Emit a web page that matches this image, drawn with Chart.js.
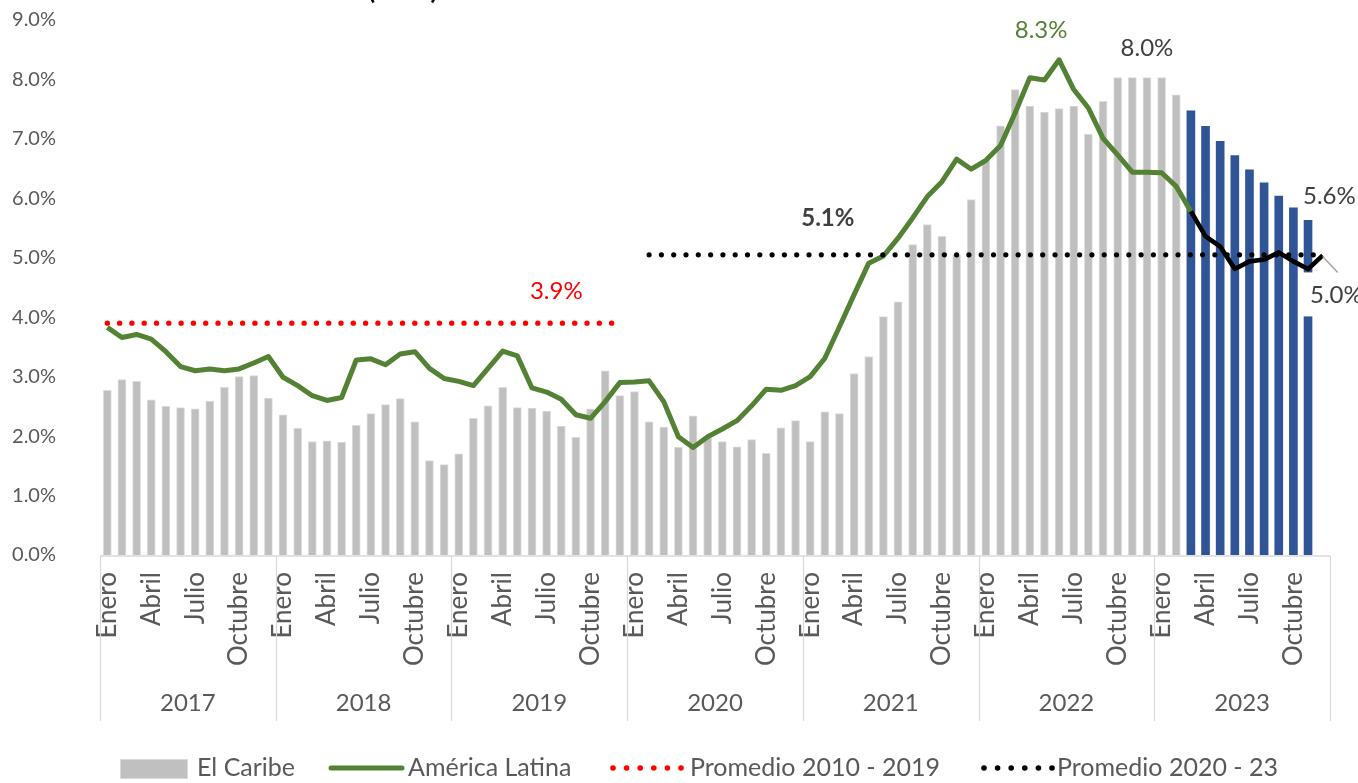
<!DOCTYPE html>
<html><head><meta charset="utf-8">
<script src="https://cdn.jsdelivr.net/npm/chart.js@4.4.1/dist/chart.umd.min.js"></script>
<style>html,body{margin:0;padding:0;background:#fff;overflow:hidden}#wrap{width:1358px;height:783px;position:relative}</style>
</head><body><div id="wrap"><canvas id="c" width="1358" height="783"></canvas></div>
<script>
const years = ['2017','2018','2019','2020','2021','2022','2023'];
const months = ['Enero','Febrero','Marzo','Abril','Mayo','Junio','Julio','Agosto','Septiembre','Octubre','Noviembre','Diciembre'];
const shownMonths = ['Enero','Abril','Julio','Octubre'];
const yTickMax = 9;

// El Caribe (bars), Jan 2017 - Dec 2023
const caribe = [
  2.77,2.95,2.92,2.61,2.50,2.48,2.46,2.59,2.82,3.00,3.02,2.64,
  2.36,2.13,1.91,1.92,1.90,2.18,2.38,2.53,2.63,2.24,1.59,1.52,
  1.70,2.30,2.51,2.82,2.48,2.47,2.42,2.17,1.98,2.46,3.10,2.68,
  2.75,2.24,2.15,1.81,2.34,1.97,1.91,1.82,1.94,1.71,2.14,2.26,
  1.91,2.41,2.38,3.05,3.34,4.01,4.26,5.22,5.56,5.36,5.05,5.98,
  6.65,7.22,7.83,7.55,7.45,7.51,7.55,7.08,7.63,8.03,8.03,8.03,
  8.03,7.74,7.47,7.21,6.96,6.72,6.48,6.26,6.04,5.84,5.63,null
];
// first index of the blue (projected) bars: Mar 2023
const caribeProjStart = 74;

// América Latina (green line), Jan 2017 - Mar 2023
const latam = [
  3.83,3.66,3.71,3.63,3.42,3.17,3.10,3.13,3.10,3.13,3.23,3.34,
  2.99,2.85,2.68,2.60,2.65,3.28,3.30,3.20,3.38,3.42,3.14,2.97,
  2.92,2.85,3.14,3.43,3.35,2.81,2.74,2.62,2.36,2.30,2.58,2.90,
  2.91,2.93,2.58,1.99,1.81,1.99,2.12,2.26,2.51,2.79,2.77,2.85,
  3.00,3.31,3.84,4.38,4.91,5.03,5.33,5.67,6.03,6.28,6.66,6.49,
  6.64,6.89,7.44,8.03,7.99,8.33,7.83,7.52,7.01,6.73,6.44,6.44,
  6.43,6.20,5.78
];
// América Latina projection (black line), Mar 2023 - Dec 2023
const latamProj = [5.78,5.36,5.19,4.81,4.94,4.97,5.09,4.94,4.81,5.04];
const latamProjStart = 74;

const avg2010_2019 = 3.9;   // drawn Jan 2017 - Dec 2019
const avg2020_2023 = 5.05;  // drawn Feb 2020 - Dec 2023
const avg1Range = [0, 35];
const avg2Range = [37, 83];

const legendNames = ['El Caribe','América Latina','Promedio 2010 - 2019','Promedio 2020 - 23'];

// build library arrays
const labels = [];
years.forEach(y => months.forEach(m => labels.push(m + ' ' + y)));
const N = labels.length;
const latamFull = labels.map((_, i) => i < latam.length ? latam[i] : null);
const projFull = labels.map((_, i) => (i >= latamProjStart && i - latamProjStart < latamProj.length) ? latamProj[i - latamProjStart] : null);
const avg1 = labels.map((_, i) => (i >= avg1Range[0] && i <= avg1Range[1]) ? avg2010_2019 : null);
const avg2 = labels.map((_, i) => (i >= avg2Range[0] && i <= avg2Range[1]) ? avg2020_2023 : null);

const TXT = '#595959';
const FONT = 'Lato';
const TARGET = { left: 100, right: 1330, top: 20, bottom: 555 };

const decor = {
  id: 'decor',
  afterDatasetsDraw(chart) {
    const ctx = chart.ctx, xs = chart.scales.x, ys = chart.scales.y, ca = chart.chartArea;
    const w = xs.getPixelForValue(1) - xs.getPixelForValue(0);
    ctx.save();
    ctx.strokeStyle = '#d9d9d9'; ctx.lineWidth = 1.5;
    ctx.beginPath(); ctx.moveTo(ca.left, ca.bottom + 1); ctx.lineTo(ca.right, ca.bottom + 1); ctx.stroke();
    ctx.lineWidth = 1.2;
    for (let k = 0; k <= years.length; k++) {
      const x = Math.round(xs.getPixelForValue(Math.min(k * 12, N - 1)) + (k * 12 >= N ? w / 2 : -w / 2)) + 0.5;
      ctx.beginPath(); ctx.moveTo(x, ca.bottom + 1); ctx.lineTo(x, ca.bottom + 166); ctx.stroke();
    }
    ctx.fillStyle = TXT; ctx.font = `24px ${FONT}`; ctx.textAlign = 'center'; ctx.textBaseline = 'middle';
    years.forEach((y, k) => {
      const x0 = xs.getPixelForValue(k * 12) - w / 2;
      ctx.fillText(y, x0 + 6 * w, ca.bottom + 148);
    });

    const lbl = (t, x, y, color, font, align) => {
      ctx.fillStyle = color; ctx.font = font; ctx.textAlign = align || 'center'; ctx.textBaseline = 'middle';
      ctx.fillText(t, x, y);
    };
    lbl('8.3%', xs.getPixelForValue(65) - 18, ys.getPixelForValue(latam[65]) - 30, '#548235', `24px ${FONT}`);
    lbl('8.0%', xs.getPixelForValue(71), ys.getPixelForValue(caribe[71]) - 29, '#404040', `24px ${FONT}`);
    lbl('5.1%', xs.getPixelForValue(49) + 3, ys.getPixelForValue(avg2020_2023) - 37, '#404040', `bold 24px ${FONT}`);
    lbl('3.9%', xs.getPixelForValue(31) - 5, ys.getPixelForValue(avg2010_2019) - 32, '#ff0000', `24px ${FONT}`);
    lbl('5.6%', xs.getPixelForValue(82) - 5, ys.getPixelForValue(caribe[82]) - 24, '#404040', `24px ${FONT}`, 'left');
    const ex = xs.getPixelForValue(83), ey = ys.getPixelForValue(latamProj[latamProj.length - 1]);
    ctx.fillStyle = '#ffffff';
    ctx.fillRect(xs.getPixelForValue(82) - 8, ey + 17, 70, 44);
    ctx.strokeStyle = '#a6a6a6'; ctx.lineWidth = 1.5;
    ctx.beginPath(); ctx.moveTo(ex, ey + 1); ctx.lineTo(ex + 15, ey + 17); ctx.stroke();
    lbl('5.0%', xs.getPixelForValue(82) + 2, ey + 40, '#404040', `24px ${FONT}`, 'left');

    // title, cut off at the top edge: only the tails of its parentheses show
    ctx.fillStyle = '#000'; ctx.font = `bold 26px ${FONT}`; ctx.textAlign = 'left'; ctx.textBaseline = 'alphabetic';
    ctx.fillText('(en %)', 368, -1);

    const ly = 768;
    ctx.font = `25px ${FONT}`; ctx.textBaseline = 'middle'; ctx.textAlign = 'left';
    ctx.fillStyle = '#c0c0c0'; ctx.fillRect(120, 759, 68, 20);
    ctx.strokeStyle = '#d9d9d9'; ctx.lineWidth = 1; ctx.strokeRect(120.5, 759.5, 67, 19);
    ctx.fillStyle = TXT; ctx.fillText(legendNames[0], 197, ly);
    ctx.strokeStyle = '#548235'; ctx.lineWidth = 5; ctx.lineCap = 'round';
    ctx.beginPath(); ctx.moveTo(331, ly); ctx.lineTo(402, ly); ctx.stroke();
    ctx.fillStyle = TXT; ctx.fillText(legendNames[1], 408, ly);
    const dots = (x0, color) => {
      ctx.fillStyle = color;
      for (let i = 0; i < 6; i++) { ctx.beginPath(); ctx.arc(x0 + i * 13.6, ly, 2.8, 0, Math.PI * 2); ctx.fill(); }
    };
    dots(613, '#ff0000');
    ctx.fillStyle = TXT; ctx.fillText(legendNames[2], 690, ly);
    dots(984, '#000000');
    ctx.fillStyle = TXT; ctx.fillText(legendNames[3], 1057, ly);
    ctx.restore();
  }
};

const zeroPad = s => { s.paddingLeft = 0; s.paddingRight = 0; s.paddingTop = 0; s.paddingBottom = 0; };

function makeChart(pad) {
  return new Chart(document.getElementById('c'), {
    type: 'bar',
    data: {
      labels,
      datasets: [
        { type: 'line', label: legendNames[3], data: avg2, borderColor: '#000', borderWidth: 5.2, borderDash: [0, 12.3],
          borderCapStyle: 'round', pointRadius: 0, fill: false, order: 1 },
        { type: 'line', label: 'Proyección', data: projFull, borderColor: '#000', borderWidth: 4.6, pointRadius: 0,
          tension: 0, fill: false, order: 0, borderJoinStyle: 'round' },
        { type: 'line', label: legendNames[2], data: avg1, borderColor: '#ff0000', borderWidth: 5.4, borderDash: [0, 12.3],
          borderCapStyle: 'round', pointRadius: 0, fill: false, order: 2 },
        { type: 'line', label: legendNames[1], data: latamFull, borderColor: '#548235', borderWidth: 5, pointRadius: 0,
          tension: 0, fill: false, order: 3, borderJoinStyle: 'round' },
        { type: 'bar', label: legendNames[0], data: caribe, order: 5, barThickness: 8,
          backgroundColor: c => c.dataIndex >= caribeProjStart ? '#2f5597' : '#bfbfbf',
          borderColor: c => c.dataIndex >= caribeProjStart ? '#2f5597' : '#dcdcdc',
          borderWidth: c => c.dataIndex >= caribeProjStart ? 0 : 1, borderSkipped: 'bottom' }
      ]
    },
    options: {
      responsive: false, animation: false, devicePixelRatio: 1,
      layout: { padding: pad },
      plugins: { legend: { display: false }, tooltip: { enabled: false } },
      scales: {
        y: {
          min: 0, max: yTickMax,
          afterFit: s => { s.width = 100; zeroPad(s); },
          grid: { display: false, drawTicks: false }, border: { display: false },
          ticks: { stepSize: 1, padding: 44, color: TXT, font: { family: FONT, size: 20 },
                   callback: v => v.toFixed(1) + '%' }
        },
        x: {
          afterFit: s => { s.height = 228; zeroPad(s); },
          grid: { display: false, drawTicks: false }, border: { display: false },
          ticks: { autoSkip: false, minRotation: 90, maxRotation: 90, padding: 17, color: TXT,
                   font: { family: FONT, size: 26 },
                   callback: (v, i) => { const m = months[i % 12]; return shownMonths.includes(m) ? m : ''; } }
        }
      }
    },
    plugins: [decor]
  });
}

function build() {
  let pad = { left: 0, right: 28, top: 20, bottom: 0 };
  let chart = makeChart(pad);
  for (let k = 0; k < 4; k++) {
    const ca = chart.chartArea;
    const dTop = ca.top - TARGET.top, dBot = ca.bottom - TARGET.bottom;
    const dL = ca.left - TARGET.left, dR = ca.right - TARGET.right;
    if (Math.abs(dTop) < 0.5 && Math.abs(dBot) < 0.5 && Math.abs(dL) < 0.5 && Math.abs(dR) < 0.5) break;
    pad = { top: Math.max(0, pad.top - dTop), bottom: Math.max(0, pad.bottom + dBot), left: Math.max(0, pad.left - dL), right: Math.max(0, pad.right + dR) };
    chart.destroy();
    chart = makeChart(pad);
  }
}
(document.fonts && document.fonts.load ? document.fonts.load(`24px ${FONT}`).then(build, build) : build());
</script></body></html>
